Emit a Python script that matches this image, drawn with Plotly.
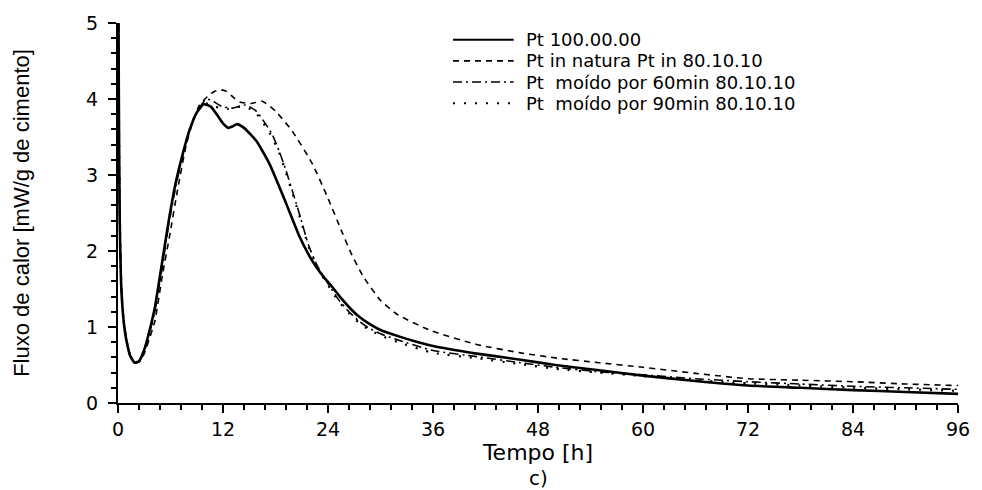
import plotly.graph_objects as go

# Heat flow curves (isothermal calorimetry), time in hours, flow in mW/g of cement
t_ref = [0.02, 0.1, 0.2, 0.4, 0.7, 1.0, 1.4, 1.9, 2.4, 3.0, 3.6, 4.2, 5.0, 5.8,
         6.6, 7.4, 8.2, 9.0, 9.8, 10.6, 11.4, 12.0, 12.6, 13.1, 13.6, 14.4, 15.8,
         17.3, 19.2, 20.7, 21.8, 22.6, 23.5, 24.4, 25.5, 26.5, 27.5, 28.6, 30, 32,
         34, 36, 41, 46, 50, 55, 60, 66, 72, 78, 84, 90, 96]
q_ref = [6.0, 3.9, 2.4, 1.46, 1.02, 0.8, 0.62, 0.53, 0.55, 0.7, 0.95, 1.25, 1.82,
         2.4, 2.9, 3.28, 3.6, 3.82, 3.93, 3.9, 3.78, 3.68, 3.62, 3.64, 3.67, 3.62,
         3.45, 3.15, 2.63, 2.2, 1.95, 1.8, 1.66, 1.54, 1.38, 1.25, 1.14, 1.05,
         0.96, 0.88, 0.81, 0.75, 0.65, 0.57, 0.5, 0.43, 0.36, 0.29, 0.23, 0.2,
         0.17, 0.145, 0.12]

t_nat = [0.02, 0.1, 0.2, 0.4, 0.7, 1.0, 1.4, 1.9, 2.4, 3.0, 3.6, 4.2, 5.1, 5.9,
         6.8, 7.8, 8.6, 9.3, 10.2, 11.0, 11.8, 12.4, 13.2, 13.9, 15.2, 16.5, 18.0,
         19.9, 22.2, 23.9, 25.6, 26.6, 28, 30, 32, 35.8, 41, 46, 50.2, 55, 60,
         66, 72, 78, 84, 90, 96]
q_nat = [6.0, 3.9, 2.4, 1.45, 1.0, 0.8, 0.62, 0.53, 0.54, 0.65, 0.85, 1.07, 1.7,
         2.2, 2.8, 3.4, 3.72, 3.92, 4.03, 4.1, 4.12, 4.1, 4.02, 3.96, 3.94, 3.97,
         3.84, 3.58, 3.15, 2.72, 2.25, 1.98, 1.67, 1.35, 1.16, 0.95, 0.77, 0.66,
         0.59, 0.53, 0.47, 0.39, 0.32, 0.3, 0.28, 0.25, 0.23]

t_m60 = [0.02, 0.1, 0.2, 0.4, 0.7, 1.0, 1.4, 1.9, 2.4, 3.0, 3.6, 4.2, 5.0, 5.8,
         6.6, 7.4, 8.2, 9.0, 10.1, 11.0, 11.9, 13.1, 14.6, 15.8, 17.6, 18.4, 19.2,
         20.7, 21.8, 22.8, 24.0, 25.2, 26.4, 27.5, 28.6, 30, 32, 36, 41, 46, 50,
         55, 60, 66, 72, 78, 84, 90, 96]
q_m60 = [6.0, 3.9, 2.4, 1.5, 1.05, 0.82, 0.63, 0.53, 0.55, 0.68, 0.92, 1.2, 1.75,
         2.35, 2.85, 3.25, 3.58, 3.83, 4.0, 3.96, 3.9, 3.88, 3.92, 3.84, 3.54,
         3.32, 3.06, 2.5, 2.07, 1.8, 1.57, 1.36, 1.2, 1.08, 0.99, 0.91, 0.83,
         0.69, 0.61, 0.53, 0.47, 0.41, 0.37, 0.32, 0.28, 0.25, 0.22, 0.2, 0.18]

t_m90 = [0.02, 0.1, 0.2, 0.4, 0.7, 1.0, 1.4, 1.9, 2.4, 3.0, 3.6, 4.2, 5.0, 5.8,
         6.6, 7.4, 8.2, 9.0, 9.8, 11.0, 12.5, 14.0, 15.5, 17.3, 18.4, 19.2, 20.7,
         21.8, 22.8, 24.0, 25.2, 26.4, 27.5, 28.6, 30, 32, 36, 41, 46, 50, 55, 60,
         66, 72, 78, 84, 90, 96]
q_m90 = [6.0, 3.9, 2.4, 1.48, 1.03, 0.81, 0.62, 0.53, 0.55, 0.69, 0.93, 1.22,
         1.78, 2.38, 2.88, 3.27, 3.6, 3.83, 3.95, 3.9, 3.87, 3.9, 3.85, 3.56, 3.3,
         3.03, 2.48, 2.05, 1.78, 1.55, 1.34, 1.18, 1.06, 0.97, 0.89, 0.8, 0.66,
         0.59, 0.51, 0.45, 0.4, 0.355, 0.3, 0.26, 0.23, 0.2, 0.18, 0.16]

series_names = ["Pt 100.00.00",
                "Pt in natura Pt in 80.10.10",
                "Pt  moído por 60min 80.10.10",
                "Pt  moído por 90min 80.10.10"]

x_ticks = [0, 12, 24, 36, 48, 60, 72, 84, 96]
y_ticks = [0, 1, 2, 3, 4, 5]

# line styles: width and dash pattern per series
styles = [(2.6, "solid"), (1.6, "6px,5px"), (1.6, "9px,4px,2px,4px"), (2.2, "2px,9px")]
data = [(t_ref, q_ref), (t_nat, q_nat), (t_m60, q_m60), (t_m90, q_m90)]

FONT = "DejaVu Sans, Arial, sans-serif"

fig = go.Figure()
for (tx, qy), name, (w, dash) in zip(data, series_names, styles):
    fig.add_trace(go.Scatter(
        x=tx, y=qy, name=name, mode="lines",
        line=dict(color="black", width=w, dash=dash, shape="spline", smoothing=0.5),
        showlegend=False,
    ))

W, H = 982, 490
ML, MR, MT, MB = 118, 19, 17, 87
PW, PH = W - ML - MR, H - MT - MB


def px_to_paper(px, py):
    return (px - ML) / PW, (H - MB - py) / PH


# hand-placed key: sample lines drawn as shapes, labels as annotations
shapes = []
annotations = []
row_y = [34, 55.5, 77, 98.5]
for (w, dash), name, ry in zip(styles, series_names, row_y):
    x0, y0 = px_to_paper(455, ry)
    x1, _ = px_to_paper(516, ry)
    shapes.append(dict(type="line", xref="paper", yref="paper",
                       x0=x0, x1=x1, y0=y0, y1=y0,
                       line=dict(color="black", width=min(w, 2.0), dash=dash)))
    xt, yt = px_to_paper(527, ry)
    annotations.append(dict(xref="paper", yref="paper", x=xt, y=yt,
                            xanchor="left", yanchor="middle", showarrow=False,
                            borderpad=0, text=name,
                            font=dict(family=FONT, size=18, color="black")))

cx, cy = px_to_paper(541, 479)
annotations.append(dict(xref="paper", yref="paper", x=cx, y=cy,
                        xanchor="center", yanchor="middle", showarrow=False,
                        borderpad=0, text="c)",
                        font=dict(family=FONT, size=20, color="black")))

axis_common = dict(
    showline=True, linecolor="black", linewidth=2,
    ticks="outside", ticklen=8, tickwidth=2, tickcolor="black",
    showgrid=False, zeroline=False,
    tickfont=dict(family=FONT, size=19, color="black"),
)

fig.update_layout(
    width=W, height=H,
    margin=dict(l=ML, r=MR, t=MT, b=MB),
    paper_bgcolor="white", plot_bgcolor="white",
    shapes=shapes, annotations=annotations,
    xaxis=dict(range=[0, 96], tickvals=x_ticks,
               minor=dict(dtick=2.4, tick0=0, ticks="outside", ticklen=5,
                          tickwidth=1.5, tickcolor="black"),
               title=dict(text="Tempo [h]", standoff=4,
                          font=dict(family=FONT, size=22, color="black")),
               **axis_common),
    yaxis=dict(range=[0, 5], tickvals=y_ticks,
               minor=dict(dtick=0.2, tick0=0, ticks="outside", ticklen=5,
                          tickwidth=1.5, tickcolor="black"),
               ticklabelstandoff=6,
               title=dict(text="Fluxo de calor [mW/g de cimento]", standoff=50,
                          font=dict(family="Liberation Sans, Arial, sans-serif",
                                    size=22, color="black")),
               **axis_common),
)

fig.write_html("out.html")
